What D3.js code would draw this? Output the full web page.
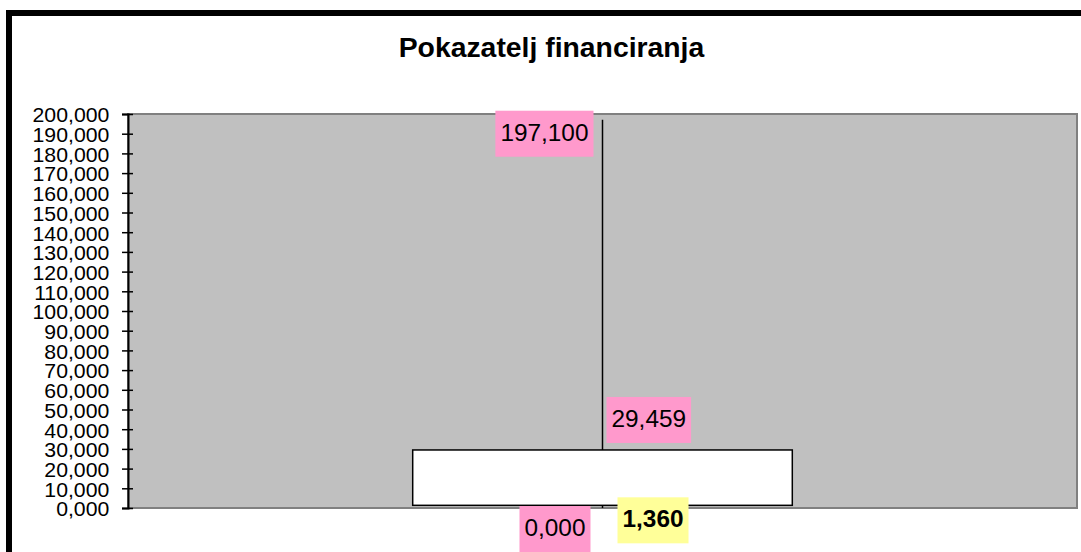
<!DOCTYPE html>
<html>
<head>
<meta charset="utf-8">
<script src="https://cdn.jsdelivr.net/npm/d3@7"></script>
<style>
  body { margin: 0; background: #fff; }
  text { font-family: "Liberation Sans", Arial, sans-serif; fill: #000; }
</style>
</head>
<body>
<svg id="chart" width="1081" height="552"></svg>
<script>
// data (values shown with decimal comma)
var categories = ["Pokazatelj"];
var highValues = [197.1];
var lowValues = [0.0];
var openValues = [29.459];
var closeValues = [1.36];
var yTicks = d3.range(0, 201, 10);
var titleText = "Pokazatelj financiranja";

var hr = d3.formatLocale({decimal: ",", thousands: ".", grouping: [3], currency: ["", ""]});
var fmt = hr.format(".3f");

var svg = d3.select('#chart');
var plot = {left: 128, top: 114, right: 1077, bottom: 508};

// outer frame
svg.append('rect')
    .attr('x', 9).attr('y', 13)
    .attr('width', 1200).attr('height', 700)
    .attr('fill', '#fff')
    .attr('stroke', '#000')
    .attr('stroke-width', 6);

svg.append('text')
    .attr('x', 551.5).attr('y', 57)
    .attr('text-anchor', 'middle')
    .attr('font-size', '27px')
    .attr('font-weight', 'bold')
    .attr('transform', 'translate(551.5,0) scale(1.05,1) translate(-551.5,0)')
    .text(titleText);

var x = d3.scaleBand()
    .domain(categories)
    .range([plot.left, plot.right])
    .paddingInner(0)
    .paddingOuter(0.75);

var y = d3.scaleLinear()
    .domain([0, 200])
    .range([plot.bottom, plot.top]);

// plot area
svg.append('rect')
    .attr('x', plot.left).attr('y', plot.top)
    .attr('width', plot.right - plot.left)
    .attr('height', plot.bottom - plot.top)
    .attr('fill', '#C0C0C0')
    .attr('stroke', '#808080')
    .attr('stroke-width', 2);

// y axis
var yAxis = d3.axisLeft(y)
    .tickValues(yTicks)
    .tickSize(6)
    .tickFormat(function(d) { return fmt(d); });

var gy = svg.append('g')
    .attr('transform', 'translate(' + plot.left + ',0)')
    .call(yAxis);
gy.select('.domain').attr('stroke', '#000').attr('stroke-width', 2);
gy.selectAll('.tick line')
    .attr('x1', 5)
    .attr('x2', -6)
    .attr('stroke', '#000')
    .attr('stroke-width', 1.5);
gy.selectAll('.tick text')
    .attr('font-size', '19.5px')
    .attr('font-family', '"Liberation Sans", Arial, sans-serif')
    .attr('fill', '#000')
    .attr('x', -18.7 / 1.09)
    .attr('dy', '0.4em')
    .attr('transform', 'scale(1.09,1)');

// high-low line
var cx = function(i) { return x(categories[i]) + x.bandwidth() / 2; };

svg.selectAll('.hl')
    .data(categories)
    .enter().append('line')
    .attr('class', 'hl')
    .attr('x1', function(d, i) { return cx(i); })
    .attr('x2', function(d, i) { return cx(i); })
    .attr('y1', function(d, i) { return y(highValues[i]); })
    .attr('y2', function(d, i) { return y(lowValues[i]); })
    .attr('stroke', '#000')
    .attr('stroke-width', 1.5);

// open-close box
svg.selectAll('.oc')
    .data(categories)
    .enter().append('rect')
    .attr('class', 'oc')
    .attr('x', function(d) { return x(d); })
    .attr('width', x.bandwidth())
    .attr('y', function(d, i) { return y(Math.max(openValues[i], closeValues[i])); })
    .attr('height', function(d, i) { return Math.abs(y(openValues[i]) - y(closeValues[i])); })
    .attr('fill', '#fff')
    .attr('stroke', '#000')
    .attr('stroke-width', 1.5);

// data labels
function addLabel(value, bg, bold, place) {
    var g = svg.append('g');
    var t = g.append('text')
        .attr('font-size', '23px')
        .attr('font-weight', bold ? 'bold' : 'normal')
        .text(fmt(value));
    var sx = 1.06;
    var tw = t.node().getComputedTextLength() * sx;
    var bw = tw + 10, bh = 46;
    var pos = place(bw, bh);
    g.insert('rect', 'text')
        .attr('x', pos[0]).attr('y', pos[1])
        .attr('width', bw).attr('height', bh)
        .attr('fill', bg);
    var tx = pos[0] + bw / 2, ty = pos[1] + bh / 2;
    t.attr('text-anchor', 'middle')
        .attr('x', tx).attr('y', ty)
        .attr('dy', '0.3em')
        .attr('transform', 'translate(' + tx + ',0) scale(' + sx + ',1) translate(' + (-tx) + ',0)');
}

categories.forEach(function(c, i) {
    var xc = cx(i);
    addLabel(highValues[i], '#FF99CC', false, function(bw, bh) {
        return [xc - 9 - bw, y(highValues[i]) - 9];
    });
    addLabel(openValues[i], '#FF99CC', false, function(bw, bh) {
        return [xc + 4, y(openValues[i]) - 7 - bh];
    });
    addLabel(lowValues[i], '#FF99CC', false, function(bw, bh) {
        return [xc - 12 - bw, y(lowValues[i]) - 2];
    });
    addLabel(closeValues[i], '#FFFF99', true, function(bw, bh) {
        return [xc + 15, y(closeValues[i]) - 8];
    });
});
</script>
</body>
</html>
